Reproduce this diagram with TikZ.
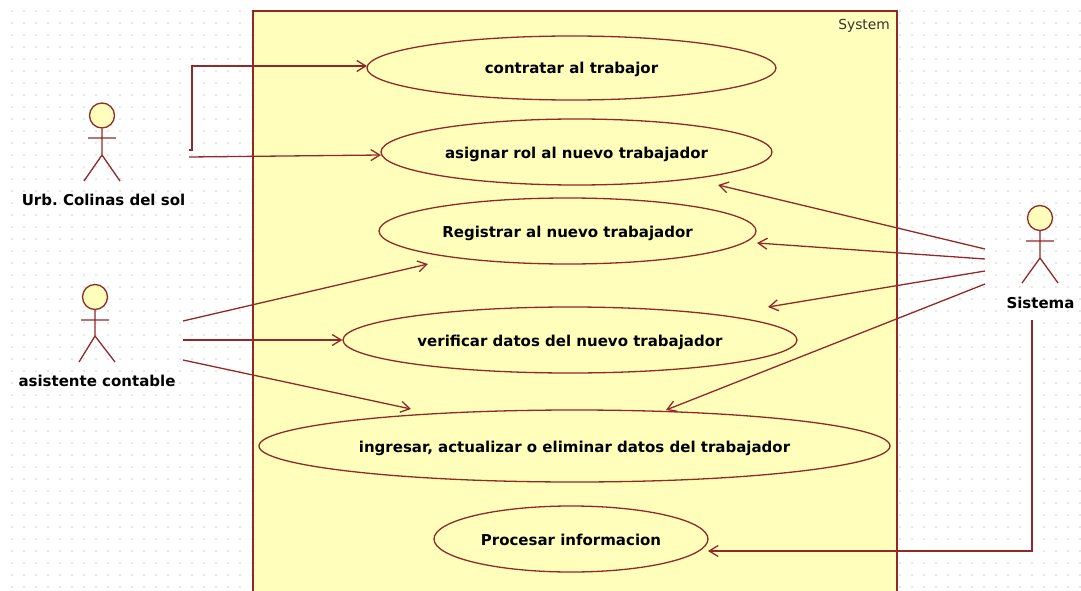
\documentclass[tikz,border=0pt]{standalone}
\usepackage{fontspec}
\setmainfont{DejaVu Sans}
\frenchspacing
\usetikzlibrary{shapes.geometric,arrows.meta}
\definecolor{umlline}{HTML}{932828}
\definecolor{umlfill}{HTML}{FFFFBB}
\definecolor{griddot}{HTML}{9A9A9A}
\tikzset{
  usecase/.style={draw=umlline,fill=umlfill,ellipse,line width=1.3pt,inner sep=0pt,text height=12pt,text depth=0pt,font=\fontsize{15}{17}\selectfont\bfseries,text=black},
  actorlabel/.style={inner sep=0pt,font=\fontsize{15}{17}\selectfont\bfseries,text=black},
  limb/.style={draw=umlline,line width=1.3pt},
  head/.style={circle,draw=umlline,fill=umlfill,line width=1.3pt,minimum size=25pt,inner sep=0pt},
  link/.style={draw=umlline,line width=1.3pt,-{Straight Barb[length=9pt,width=11pt,line width=1.3pt]}},
}
\begin{document}
\begin{tikzpicture}[x=1pt,y=-1pt]
\useasboundingbox (0,0) rectangle (1081,591);
\fill[white] (0,0) rectangle (1081,591);
% dotted canvas
\foreach \i in {0,...,90}{\foreach \j in {0,...,48}{
  \fill[griddot] ({12+12*\i},{11+12*\j}) circle (0.7pt);
}}
% system boundary
\fill[umlfill] (253,11) rectangle (897,591);
\draw[umlline,line width=1.3pt] (253,591) -- (253,11) -- (897,11) -- (897,591);
\node[anchor=north east,inner sep=0pt,font=\fontsize{13.8}{16}\selectfont,text=black!80] (sys) at (890,19) {System};
% use cases
\node[usecase,minimum width=409pt,minimum height=64pt] (contratar) at (571.5,68) {contratar al trabajor};
\node[usecase,minimum width=391pt,minimum height=66pt] (asignar) at (576.5,152) {asignar rol al nuevo trabajador};
\node[usecase,minimum width=377pt,minimum height=66pt] (registrar) at (567.5,231) {Registrar al nuevo trabajador};
\node[usecase,minimum width=454pt,minimum height=66pt] (verificar) at (570,340) {verificar datos del nuevo trabajador};
\node[usecase,minimum width=631pt,minimum height=72pt] (ingresar) at (574.5,446) {ingresar, actualizar o eliminar datos del trabajador};
\node[usecase,minimum width=274pt,minimum height=66pt] (procesar) at (571,539) {Procesar informacion};
% actors
\node[head] (a1) at (102,115.5) {};
\draw[limb] (a1.south) -- (102,155) (88,138) -- (116,138) (84,181) -- (102,155) -- (120,181);
\node[actorlabel] (urb) at (103.5,200) {Urb. Colinas del sol};
\node[head] (a2) at (95,297) {};
\draw[limb] (a2.south) -- (95,336) (81,320) -- (109,320) (79,362) -- (95,336) -- (115,362);
\node[actorlabel] (asis) at (97,381) {asistente contable};
\node[head] (a3) at (1040,218) {};
\draw[limb] (a3.south) -- (1040,258) (1026,241) -- (1054,241) (1022,283) -- (1040,258) -- (1058,283);
\node[actorlabel] (sist) at (1040.5,303) {Sistema};
% connector ends
\coordinate (u1) at (189,150);
\coordinate (u2) at (189,157);
\coordinate (t1) at (367,66);
\coordinate (t2) at (381,155);
\coordinate (c1) at (183,321);
\coordinate (c2) at (183,340);
\coordinate (c3) at (183,360);
\coordinate (e1) at (428,264);
\coordinate (e3) at (411,409);
\coordinate (s1) at (985,249);
\coordinate (s2) at (985,259);
\coordinate (s3) at (985,271);
\coordinate (s4) at (985,284);
\coordinate (s5) at (1032,320);
\coordinate (f1) at (718,185);
\coordinate (f2) at (757,243);
\coordinate (f3) at (768,307);
\coordinate (f4) at (666,410);
\coordinate (f5) at (708,551);
\draw[link] (u1) -- (192,150) -- (192,66) -- (t1);
\draw[link] (u2) -- (t2);
\draw[link] (c1) -- (e1);
\draw[link] (c2) -- (verificar.west);
\draw[link] (c3) -- (e3);
\draw[link] (s1) -- (f1);
\draw[link] (s2) -- (f2);
\draw[link] (s3) -- (f3);
\draw[link] (s4) -- (f4);
\draw[link] (s5) -- (1032,551) -- (f5);
\end{tikzpicture}
\end{document}
